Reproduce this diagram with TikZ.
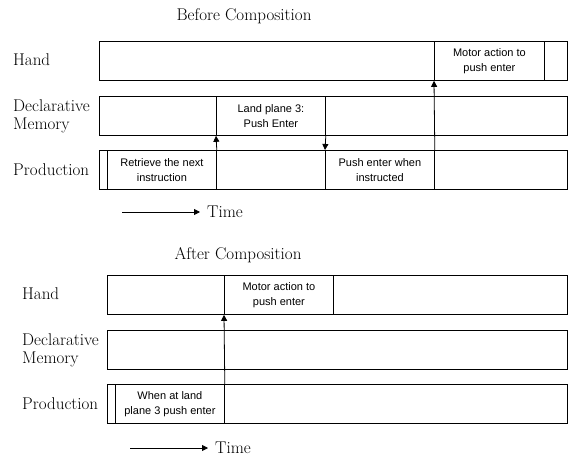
\documentclass[tikz,border=0pt]{standalone}
\usepackage{fontspec}
\newfontfamily\boxfont{Liberation Sans}
\usetikzlibrary{arrows.meta}

\tikzset{
  lane/.style={draw, line width=0.8pt, minimum width=468pt, minimum height=39pt, anchor=north west},
  task/.style={draw, line width=0.8pt, minimum width=109pt, minimum height=39pt, anchor=north west,
    align=center, font=\boxfont\fontsize{11}{15}\selectfont},
  rowlabel/.style={anchor=west, align=left, font=\fontsize{17}{18}\selectfont},
  heading/.style={font=\fontsize{17}{18}\selectfont},
  flow/.style={line width=0.8pt, -{Triangle[length=6pt,width=6pt]}}
}

\begin{document}
\begin{tikzpicture}[x=1pt,y=-1pt]
\tikzstyle{every node}+=[inner sep=0pt]
\useasboundingbox (0,0) rectangle (572,457);

% before composition
\node[heading] (before) at (244,16) {Before Composition};
\node[rowlabel] (handA) at (13,60) {Hand};
\node[rowlabel] (memA) at (13,116) {Declarative\\Memory};
\node[rowlabel] (prodA) at (13,170) {Production};
\node[lane] (handlaneA) at (99,41) {};
\node[lane] (memlaneA) at (99,96) {};
\node[lane] (prodlaneA) at (99,150) {};
\node[task] (retrieve) at (107,150) {Retrieve the next\\instruction};
\node[task] (land) at (216,96) {Land plane 3:\\Push Enter};
\node[task] (push) at (325,150) {Push enter when\\instructed};
\node[task, minimum width=110pt] (motorA) at (434,41) {Motor action to\\push enter};
\draw[flow] (retrieve.north east) -- (land.south west);
\draw[flow] (land.south east) -- (push.north west);
\draw[flow] (push.north east) -- (motorA.south west);
\coordinate (timestartA) at (122,212);
\coordinate (timeendA) at (200,212);
\node[heading, anchor=west] (timeA) at (207,212) {Time};
\draw[flow] (timestartA) -- (timeendA);

% after composition
\node[heading] (after) at (238,255) {After Composition};
\node[rowlabel] (handB) at (22,294) {Hand};
\node[rowlabel] (memB) at (22,350) {Declarative\\Memory};
\node[rowlabel] (prodB) at (22,404) {Production};
\node[lane, minimum width=460pt] (handlaneB) at (107,275) {};
\node[lane, minimum width=460pt] (memlaneB) at (107,330) {};
\node[lane, minimum width=460pt] (prodlaneB) at (107,384) {};
\node[task] (when) at (115,384) {When at land\\plane 3 push enter};
\node[task] (motorB) at (224,275) {Motor action to\\push enter};
\draw[flow] (when.north east) -- (motorB.south west);
\coordinate (timestartB) at (130,448);
\coordinate (timeendB) at (208,448);
\node[heading, anchor=west] (timeB) at (215,448) {Time};
\draw[flow] (timestartB) -- (timeendB);
\end{tikzpicture}
\end{document}
